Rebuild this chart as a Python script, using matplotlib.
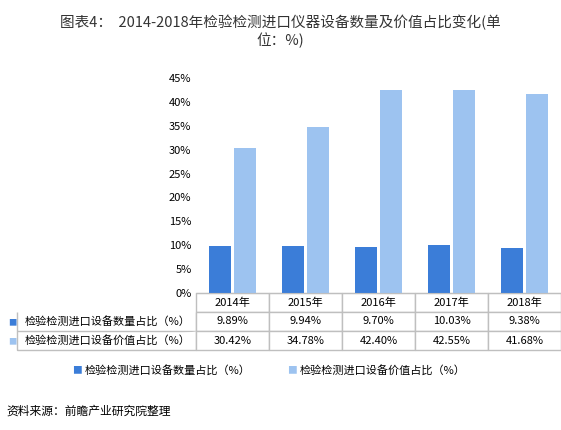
import matplotlib
matplotlib.use("Agg")
import matplotlib.pyplot as plt
import numpy as np

plt.rcParams['font.family'] = ['Noto Sans CJK SC', 'DejaVu Sans']

years = ['2014年', '2015年', '2016年', '2017年', '2018年']
qty = [9.89, 9.94, 9.70, 10.03, 9.38]
val = [30.42, 34.78, 42.40, 42.55, 41.68]
qty_lbl = ['9.89%', '9.94%', '9.70%', '10.03%', '9.38%']
val_lbl = ['30.42%', '34.78%', '42.40%', '42.55%', '41.68%']
s1 = '检验检测进口设备数量占比（%）'
s2 = '检验检测进口设备价值占比（%）'
c1 = '#3b7dd8'
c2 = '#9dc3f0'

fig = plt.figure(figsize=(5.61, 4.30), dpi=100)
ax = fig.add_axes([0.35, 1 - 293 / 430, 0.65, 215 / 430])
x = np.arange(len(years))
w = 0.3
ax.bar(x - 0.17, qty, w, color=c1)
ax.bar(x + 0.17, val, w, color=c2)
ax.set_xlim(-0.5, 4.5)
ax.set_ylim(0, 45)
ax.set_yticks(range(0, 46, 5))
ax.set_yticklabels([f'{v}%' for v in range(0, 46, 5)], fontsize=8)
ax.set_xticks([])
for s in ['top', 'right', 'left']:
    ax.spines[s].set_visible(False)
ax.spines['bottom'].set_color('#bfbfbf')
ax.tick_params(axis='y', length=0)

th = 57 / 215
tb = ax.table(cellText=[years, qty_lbl, val_lbl],
              rowLabels=['', s1, s2],
              cellLoc='center', rowLoc='left',
              bbox=[0, -th, 1, th])
tb.auto_set_font_size(False)
for (r, c), cell in tb.get_celld().items():
    cell.set_edgecolor('#bfbfbf')
    cell.set_fontsize(8)
    if c == -1:
        cell.PAD = 0.04
        if r == 0:
            cell.set_edgecolor('white')
        cell.visible_edges = 'BLR' if r > 0 else ''

fig.text(8 / 561, 1 - 323 / 430, '■', color=c1, fontsize=6, va='center')
fig.text(8 / 561, 1 - 342 / 430, '■', color=c2, fontsize=6, va='center')

fig.text(72 / 561, 1 - 370 / 430, '■', color=c1, fontsize=7, va='center')
fig.text(85 / 561, 1 - 370 / 430, s1, fontsize=8, va='center')
fig.text(287 / 561, 1 - 370 / 430, '■', color=c2, fontsize=7, va='center')
fig.text(300 / 561, 1 - 370 / 430, s2, fontsize=8, va='center')

fig.text(0.5, 0.965, '图表4：  2014-2018年检验检测进口仪器设备数量及价值占比变化(单\n位：%)',
         ha='center', va='top', fontsize=10.5, color='#333333', linespacing=1.2)
fig.text(0.012, 0.045, '资料来源：前瞻产业研究院整理', fontsize=8.5, va='center')
fig.savefig('out.png', dpi=100)
